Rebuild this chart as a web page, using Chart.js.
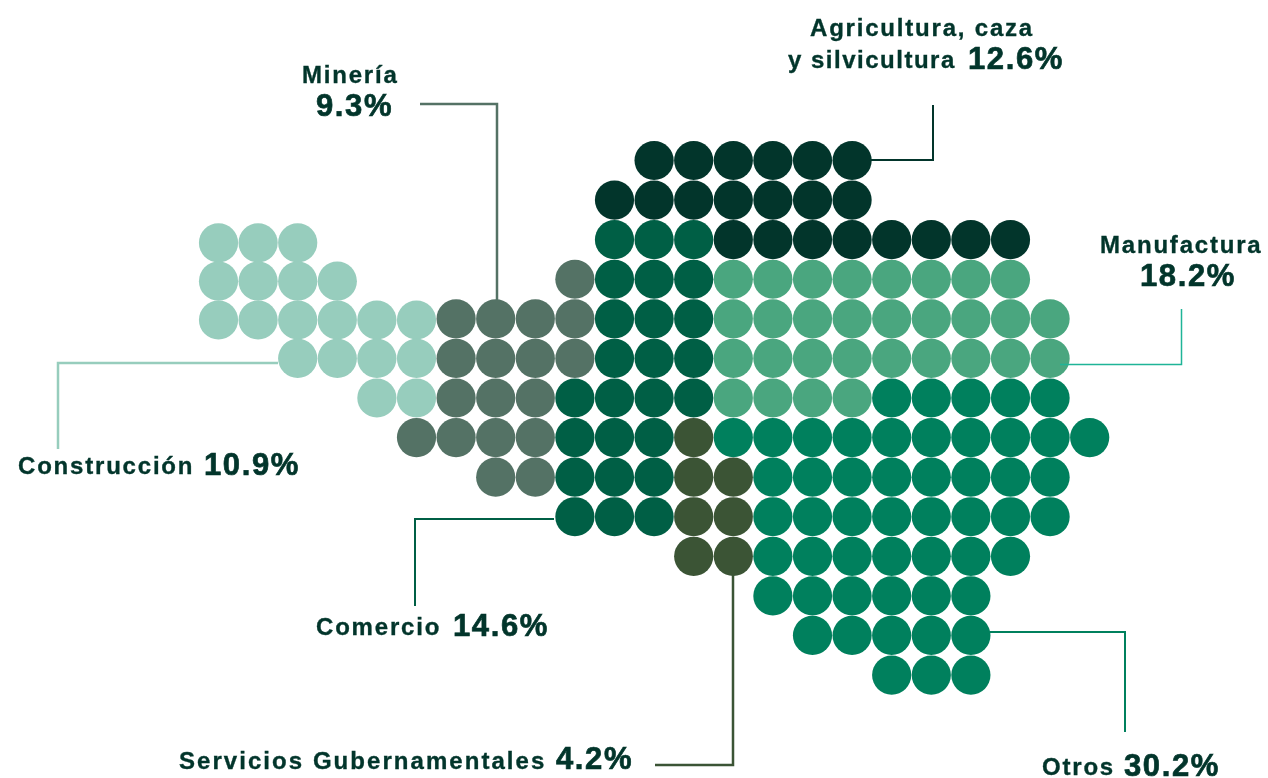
<!DOCTYPE html>
<html lang="es">
<head>
<meta charset="utf-8">
<title>Sectores</title>
<script src="https://cdn.jsdelivr.net/npm/chart.js@4/dist/chart.umd.min.js"></script>
<style>
  html, body { margin: 0; padding: 0; background: #fff; overflow: hidden; }
  canvas { display: block; }
</style>
</head>
<body>
<canvas id="puntos" width="1268" height="778"></canvas>
<script>
// each row: [fila, [columnas]]
const agricultura = [
    [0, [11, 12, 13, 14, 15, 16]],
    [1, [10, 11, 12, 13, 14, 15, 16]],
    [2, [13, 14, 15, 16, 17, 18, 19, 20]],
];
const comercio = [
    [2, [10, 11, 12]],
    [3, [10, 11, 12]],
    [4, [10, 11, 12]],
    [5, [10, 11, 12]],
    [6, [9, 10, 11, 12]],
    [7, [9, 10, 11]],
    [8, [9, 10, 11]],
    [9, [9, 10, 11]],
];
const mineria = [
    [3, [9]],
    [4, [6, 7, 8, 9]],
    [5, [6, 7, 8, 9]],
    [6, [6, 7, 8]],
    [7, [5, 6, 7, 8]],
    [8, [7, 8]],
];
// top of this block sits slightly lower than the main grid
const construccion = [
    [2.08, [0, 1, 2]],
    [3.05, [0, 1, 2, 3]],
    [4.03, [0, 1, 2, 3, 4, 5]],
    [5, [2, 3, 4, 5]],
    [6, [4, 5]],
];
const manufactura = [
    [3, [13, 14, 15, 16, 17, 18, 19, 20]],
    [4, [13, 14, 15, 16, 17, 18, 19, 20, 21]],
    [5, [13, 14, 15, 16, 17, 18, 19, 20, 21]],
    [6, [13, 14, 15, 16]],
];
const otros = [
    [6, [17, 18, 19, 20, 21]],
    [7, [13, 14, 15, 16, 17, 18, 19, 20, 21, 22]],
    [8, [14, 15, 16, 17, 18, 19, 20, 21]],
    [9, [14, 15, 16, 17, 18, 19, 20, 21]],
    [10, [14, 15, 16, 17, 18, 19, 20]],
    [11, [14, 15, 16, 17, 18, 19]],
    [12, [15, 16, 17, 18, 19]],
    [13, [17, 18, 19]],
];
const gubernamentales = [
    [7, [12]],
    [8, [12, 13]],
    [9, [12, 13]],
    [10, [12, 13]],
];

const TEXTO = "#02352b";

function puntos(filas) {
    const out = [];
    filas.forEach(function (f) {
        f[1].forEach(function (c) { out.push({ x: c, y: f[0] }); });
    });
    return out;
}

function serie(nombre, filas, color) {
    return {
        label: nombre,
        data: puntos(filas),
        backgroundColor: color,
        borderWidth: 0,
        pointRadius: 19.6,
        pointHoverRadius: 19.6,
    };
}

// leader lines, in page pixels
const lineas = [
    { color: "#02352b", w: 2, p: [[871, 160], [933, 160], [933, 105]] },
    { color: "#547265", w: 2.5, p: [[420, 104], [497, 104], [497, 300]] },
    { color: "#97cdbd", w: 2.5, p: [[278, 363], [58, 363], [58, 449]] },
    { color: "#1fb497", w: 1.5, p: [[1060, 364.5], [1181.5, 364.5], [1181.5, 309]] },
    { color: "#005f45", w: 2, p: [[554, 519], [415, 519], [415, 606]] },
    { color: "#3b5435", w: 2.5, p: [[733, 575], [733, 765], [655, 765]] },
    { color: "#00805d", w: 2, p: [[990, 632], [1125, 632], [1125, 732]] },
];

// t: name (regular size) / v: value (large size)
const rotulos = [
    { t: "Agricultura, caza", x: 810, y: 36 },
    { t: "y silvicultura", x: 788, y: 68, ls: 1.5 },
    { v: "12.6%", x: 968, y: 69 },
    { t: "Minería", x: 302, y: 83 },
    { v: "9.3%", x: 316, y: 116 },
    { t: "Manufactura", x: 1100, y: 253 },
    { v: "18.2%", x: 1140, y: 286 },
    { t: "Construcción", x: 18, y: 474 },
    { v: "10.9%", x: 204, y: 475 },
    { t: "Comercio", x: 316, y: 635 },
    { v: "14.6%", x: 453, y: 636 },
    { t: "Servicios Gubernamentales", x: 179, y: 769, ls: 2.05 },
    { v: "4.2%", x: 556, y: 769 },
    { t: "Otros", x: 1042, y: 775 },
    { v: "30.2%", x: 1124, y: 776 },
];

const anotaciones = {
    id: "anotaciones",
    afterDatasetsDraw: function (chart) {
        const c = chart.ctx;
        c.save();
        lineas.forEach(function (l) {
            c.strokeStyle = l.color;
            c.lineWidth = l.w;
            c.lineJoin = "miter";
            c.beginPath();
            l.p.forEach(function (q, i) {
                if (i === 0) c.moveTo(q[0], q[1]);
                else c.lineTo(q[0], q[1]);
            });
            c.stroke();
        });
        c.fillStyle = TEXTO;
        c.strokeStyle = TEXTO;
        c.textAlign = "left";
        c.textBaseline = "alphabetic";
        rotulos.forEach(function (r) {
            if (r.t) {
                c.font = 'bold 24px "Liberation Sans", Arial, sans-serif';
                c.letterSpacing = (r.ls || 1.8) + "px";
                c.lineWidth = 0.35;
                c.fillText(r.t, r.x, r.y);
                c.strokeText(r.t, r.x, r.y);
            } else {
                c.font = 'bold 31px "Liberation Sans", Arial, sans-serif';
                c.letterSpacing = "1.6px";
                c.lineWidth = 0.7;
                c.fillText(r.v, r.x, r.y);
                c.strokeText(r.v, r.x, r.y);
            }
        });
        c.restore();
    },
};

new Chart(document.getElementById("puntos").getContext("2d"), {
    type: "scatter",
    data: {
        datasets: [
            serie("Agricultura, caza y silvicultura", agricultura, "#02352b"),
            serie("Comercio", comercio, "#005f45"),
            serie("Minería", mineria, "#547265"),
            serie("Construcción", construccion, "#97cdbd"),
            serie("Manufactura", manufactura, "#4aa67f"),
            serie("Otros", otros, "#00805d"),
            serie("Servicios Gubernamentales", gubernamentales, "#3b5435"),
        ],
    },
    options: {
        responsive: false,
        animation: false,
        layout: { padding: 0, autoPadding: false },
        plugins: { legend: { display: false }, tooltip: { enabled: false } },
        scales: {
            x: { type: "linear", display: false, min: -5.518, max: 26.503 },
            y: { type: "linear", display: false, reverse: true, min: -4.055, max: 15.601 },
        },
    },
    plugins: [anotaciones],
});
</script>
</body>
</html>
